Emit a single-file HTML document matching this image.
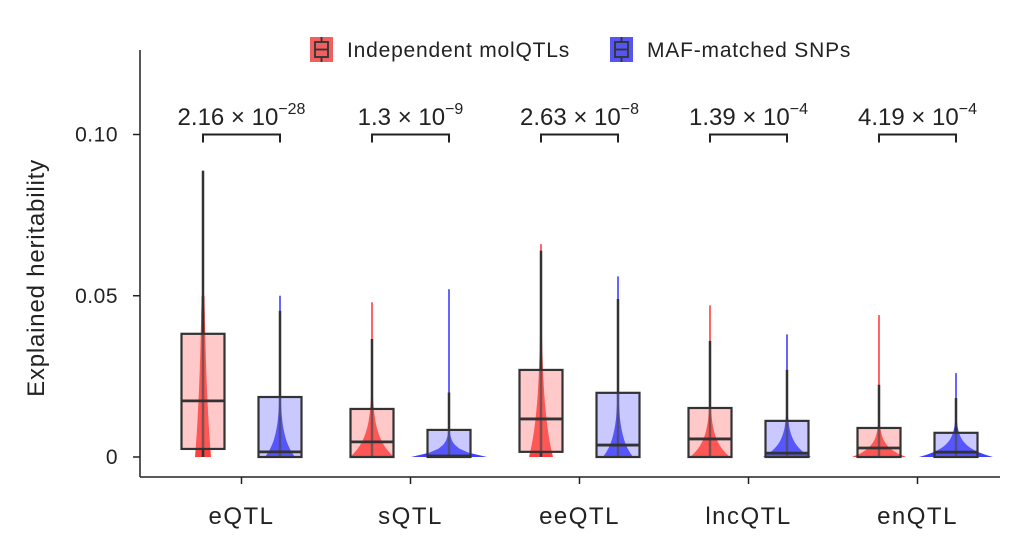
<!DOCTYPE html>
<html><head><meta charset="utf-8"><style>
body{margin:0;background:#fff;}
svg{display:block;font-family:"Liberation Sans",sans-serif;}
</style></head><body>
<svg id="chart" width="1024" height="550" viewBox="0 0 1024 550">
<g id="axes"></g><g id="marks"></g><g id="annot"></g>
</svg>
<script>
const categories=["eQTL","sQTL","eeQTL","lncQTL","enQTL"];
const pvalMant=["2.16","1.3","2.63","1.39","4.19"];
const pvalExp=["−28","−9","−8","−4","−4"];
const yTicks=[0,0.05,0.10];
const yTickLabels=["0","0.05","0.10"];
// [q1, median, q3, whiskerLow, whiskerHigh]
const redBox=[[0.0025,0.0174,0.0382,0,0.0888],[0,0.0047,0.0149,0,0.0366],[0.0016,0.0118,0.027,0,0.064],[0,0.0056,0.0152,0,0.036],[0,0.0028,0.009,0,0.0224]];
const blueBox=[[0,0.0016,0.0186,0,0.0453],[0,0.0003,0.0084,0,0.020],[0,0.0037,0.0199,0,0.049],[0,0.0012,0.0112,0,0.027],[0,0.0015,0.0075,0,0.0183]];
// violin: [top value, base density, decay scale]
const redViolin=[[0.05,8,0.03],[0.048,22,0.006],[0.066,12,0.015],[0.047,20,0.005],[0.044,27,0.003]];
const blueViolin=[[0.05,15,0.006],[0.052,38,0.002],[0.056,15,0.006],[0.038,24,0.004],[0.026,37,0.003]];

const NS="http://www.w3.org/2000/svg";
const y=v=>457-v*3225;
const xc=i=>241.5+i*169;
function mk(parent,tag,attrs,text){const e=document.createElementNS(NS,tag);for(const k in attrs)e.setAttribute(k,attrs[k]);if(text!==undefined)e.textContent=text;document.getElementById(parent).appendChild(e);return e;}
let e=mk("axes","line",{x1:140,y1:50,x2:140,y2:477,stroke:"#222","stroke-width":1.5});


e=mk("axes","line",{x1:140,y1:477,x2:1000,y2:477,stroke:"#222","stroke-width":1.5});


yTicks.forEach((t,i)=>{
 e=mk("axes","line",{x1:133,y1:y(t),x2:140,y2:y(t),stroke:"#222","stroke-width":1.5});
 
 
 e=mk("axes","text",{x:118,y:y(t)+7,"text-anchor":"end","font-size":21,"letter-spacing":0.5,fill:"#222"},yTickLabels[i]);
 
 
});
categories.forEach((c,i)=>{
 e=mk("axes","line",{x1:xc(i),y1:477,x2:xc(i),y2:484,stroke:"#222","stroke-width":1.5});
 
 
 e=mk("axes","text",{x:xc(i),y:524,"text-anchor":"middle","font-size":24,"letter-spacing":1.5,fill:"#222"},c);
 
 
});
e=mk("axes","text",{x:0,y:0,transform:"translate(44,278) rotate(-90)","text-anchor":"middle","font-size":24,"letter-spacing":0.8,fill:"#222"},"Explained heritability");



function violin(cx,v,col){
 const [top,w0,sc]=v;let L=[],R=[];const n=40;
 for(let k=0;k<=n;k++){const val=top*k/n;const w=Math.max(0.8,w0*Math.exp(-val/sc));L.push([cx-w,y(val)]);R.push([cx+w,y(val)]);}
 const pts=R.concat(L.reverse());
 return mk("marks","path",{d:"M"+pts.map(q=>q[0].toFixed(1)+","+q[1].toFixed(1)).join("L")+"Z",fill:col});
}
function box(cx,b,col){
 const [q1,med,q3,lo,hi]=b;
 let l=mk("marks","line",{x1:cx,y1:y(hi),x2:cx,y2:y(lo),stroke:"#333","stroke-width":2.5});
 
 
 let r=mk("marks","rect",{x:cx-21.5,y:y(q3),width:43,height:y(q1)-y(q3),fill:col,stroke:"#333","stroke-width":2.2});
 
 
 let m=mk("marks","line",{x1:cx-21.5,y1:y(med),x2:cx+21.5,y2:y(med),stroke:"#333","stroke-width":2.8});
 
 
}
categories.forEach((c,i)=>{
 const rx=xc(i)-38.5,bx=xc(i)+38.5;
 let v=violin(rx,redViolin[i],"#ff4040");
 
 
 v=violin(bx,blueViolin[i],"#4040ff");
 
 
 box(rx,redBox[i],"rgba(255,120,120,0.4)");
 box(bx,blueBox[i],"rgba(120,120,255,0.4)");
 let br=mk("annot","path",{d:`M${rx},${y(0.1)+8}V${y(0.1)}H${bx}V${y(0.1)+8}`,fill:"none",stroke:"#222","stroke-width":2});
 
 
 let t=mk("annot","text",{x:xc(i),y:125,"text-anchor":"middle","font-size":24,fill:"#222"});
 
 
 t.innerHTML=pvalMant[i]+" × 10<tspan dy='-11' font-size='16'>"+pvalExp[i]+"</tspan>";
});
[[310,"#f06060","Independent molQTLs","legend-independent"],[610,"#5555f0","MAF-matched SNPs","legend-maf"]].forEach(L=>{
 const g=mk("annot","g",{});
 
 
 const ns=(t,a)=>{const el=document.createElementNS(NS,t);for(const k in a)el.setAttribute(k,a[k]);g.appendChild(el);return el;};
 ns("rect",{x:L[0],y:37,width:23,height:25,fill:L[1]});
 ns("rect",{x:L[0]+5,y:42,width:13,height:15,fill:"none",stroke:"#333","stroke-width":1.8});
 ns("line",{x1:L[0]+5,y1:49.5,x2:L[0]+18,y2:49.5,stroke:"#333","stroke-width":1.8});
 ns("line",{x1:L[0]+11.5,y1:37,x2:L[0]+11.5,y2:42,stroke:"#333","stroke-width":1.8});
 ns("line",{x1:L[0]+11.5,y1:57,x2:L[0]+11.5,y2:62,stroke:"#333","stroke-width":1.8});
 const tx=ns("text",{x:L[0]+37,y:57,"font-size":21,"letter-spacing":0.8,fill:"#222"});tx.textContent=L[2];
});
</script>
</body></html>
